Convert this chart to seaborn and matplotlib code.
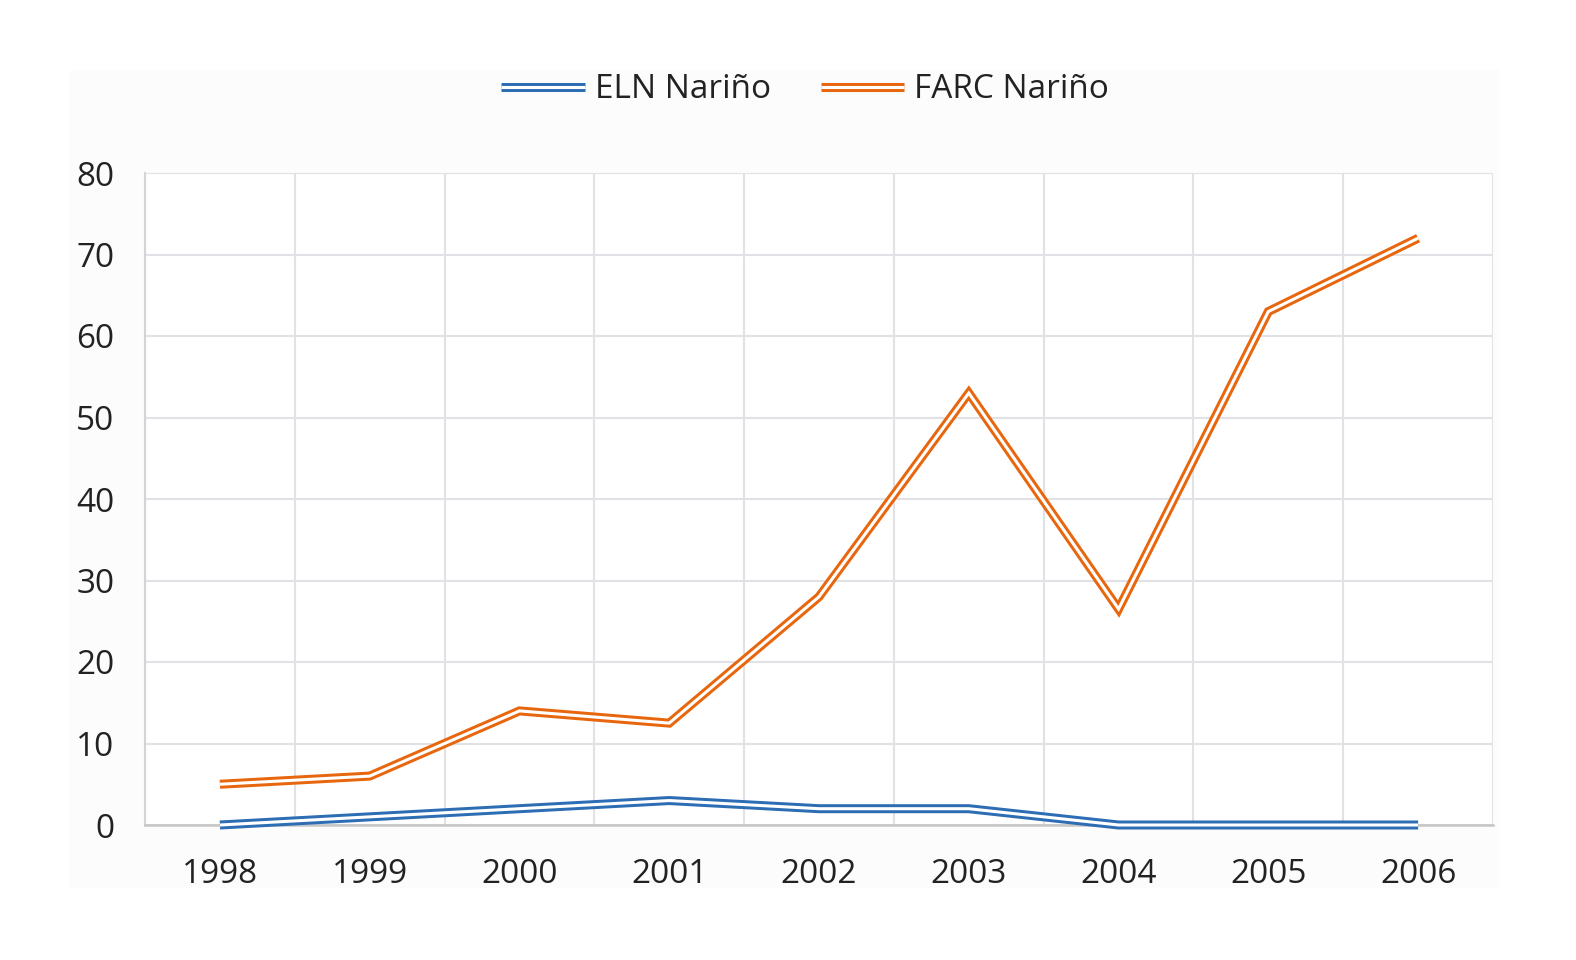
import numpy as np
import pandas as pd
import matplotlib.pyplot as plt
import seaborn as sns
from matplotlib.lines import Line2D
from matplotlib.patches import Rectangle

years = ["1998", "1999", "2000", "2001", "2002", "2003", "2004", "2005", "2006"]
eln = [0, 1, 2, 3, 2, 2, 0, 0, 0]
farc = [5, 6, 14, 12.5, 28, 53, 26.5, 63, 72]
series = ["ELN Nariño", "FARC Nariño"]
colors = ["#2c6db4", "#e8660d"]

df = pd.DataFrame({
    "year": years * 2,
    "x": list(range(len(years))) * 2,
    "value": eln + farc,
    "series": [series[0]] * len(years) + [series[1]] * len(years),
})

sns.set_theme(style="white")
plt.rcParams["font.family"] = ["Open Sans", "DejaVu Sans"]

fig = plt.figure(figsize=(15.76, 9.6), dpi=100)
# faint chart-area background like the Excel export
fig.patches.append(Rectangle((70 / 1576, 1 - 888 / 960), 1430 / 1576, 818 / 960,
                             transform=fig.transFigure, facecolor="#fcfcfc",
                             edgecolor="none", zorder=-10))
ax = fig.add_axes([145 / 1576, 1 - 825 / 960, 1348 / 1576, 652 / 960])
ax.set_facecolor("white")

# double-line look: thick coloured stroke with a thin white stroke on top
sns.lineplot(data=df, x="x", y="value", hue="series", palette=colors,
             linewidth=6.5, legend=False, ax=ax, zorder=3)
sns.lineplot(data=df, x="x", y="value", hue="series", palette=["white", "white"],
             linewidth=2.2, legend=False, ax=ax, zorder=4)
for ln in ax.lines:
    ln.set_solid_joinstyle("miter")
    ln.set_solid_capstyle("butt")
    ln.set_clip_on(False)

ax.set_xlim(-0.5, len(years) - 0.5)
ax.set_ylim(0, 80)
ax.set_xticks(range(len(years)))
ax.set_xticklabels(years)
ax.set_xticks(np.arange(-0.5, len(years), 1.0), minor=True)
ax.set_yticks(range(0, 81, 10))
ax.grid(False)
ax.grid(axis="y", which="major", color="#e2e2e6", linewidth=1.5)
ax.grid(axis="x", which="minor", color="#e2e2e6", linewidth=1.5)
ax.tick_params(axis="both", which="both", length=0, labelsize=24, colors="#222222")
ax.tick_params(axis="x", pad=24)
ax.tick_params(axis="y", pad=22)
for s in ["top", "right"]:
    ax.spines[s].set_visible(False)
ax.spines["left"].set_color("#d4d4d8")
ax.spines["bottom"].set_color("#c6c6c6")
ax.spines["left"].set_linewidth(1.5)
ax.spines["bottom"].set_linewidth(1.8)
ax.set_xlabel("")
ax.set_ylabel("")

handles = [(Line2D([], [], color=c, linewidth=6.5, solid_capstyle="butt"),
            Line2D([], [], color="white", linewidth=2.2, solid_capstyle="butt"))
           for c in colors]
fig.legend(handles, series, loc="center", bbox_to_anchor=(805 / 1576, 1 - 90 / 960),
           ncol=2, frameon=False, fontsize=24, handlelength=2.5,
           handletextpad=0.3, columnspacing=1.5, labelcolor="#222222")

fig.savefig("out.png", dpi=100, facecolor="white")
